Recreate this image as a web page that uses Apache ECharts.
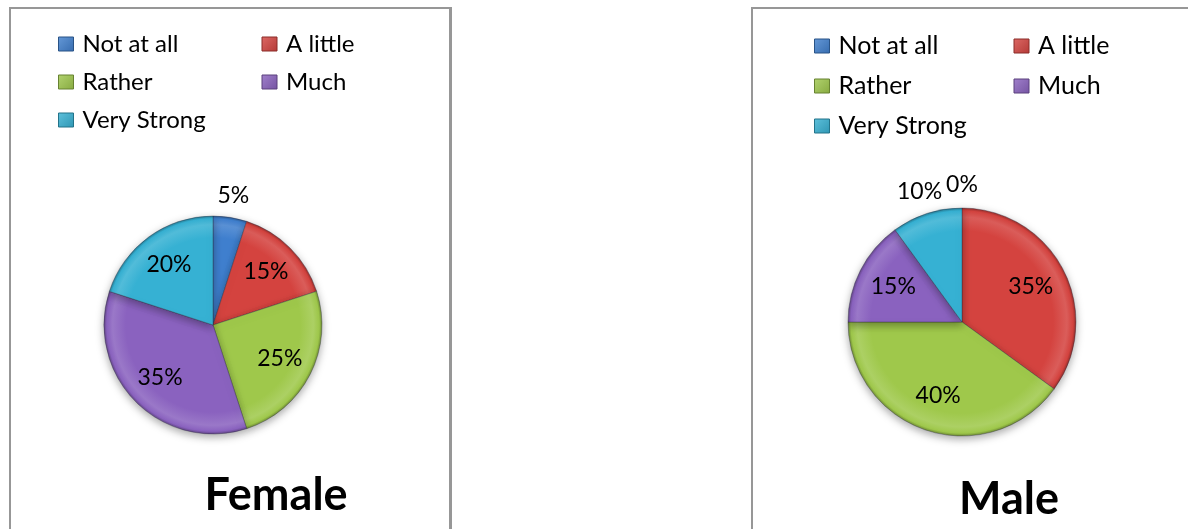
<!DOCTYPE html>
<html>
<head>
<meta charset="utf-8">
<script src="https://cdn.jsdelivr.net/npm/echarts@6/dist/echarts.min.js"></script>
<style>
  html, body { margin: 0; padding: 0; background: #fff; }
  #wrap { position: relative; width: 1188px; height: 529px; overflow: hidden; }
  .panel { position: absolute; box-sizing: border-box; border: 2px solid #979797; border-right-width: 3px; }
  #main { position: absolute; left: 0; top: 0; width: 1188px; height: 529px; }
</style>
</head>
<body>
<div id="wrap">
  <div class="panel" style="left:9px; top:7px; width:443px; height:560px;"></div>
  <div class="panel" style="left:751px; top:7px; width:500px; height:560px;"></div>
  <div id="main"></div>
</div>
<script>
// ---- data ----
const categories = ['Not at all', 'A little', 'Rather', 'Much', 'Very Strong'];
const femaleValues = [5, 15, 25, 35, 20];
const maleValues = [0, 35, 40, 15, 10];
const panelTitles = ['Female', 'Male'];

// ---- style ----
const baseColors = ['#3f7fce', '#d4433f', '#9fc84b', '#8a62bf', '#36b1d3'];
const FONT = 'Lato, "Liberation Sans", sans-serif';

function shade(hex, amt) {
  const n = parseInt(hex.slice(1), 16);
  let r = (n >> 16) & 255, g = (n >> 8) & 255, b = n & 255;
  const f = (c) => Math.max(0, Math.min(255, Math.round(amt >= 0 ? c + (255 - c) * amt : c * (1 + amt))));
  return 'rgb(' + f(r) + ',' + f(g) + ',' + f(b) + ')';
}

const panels = [
  { values: femaleValues, title: panelTitles[0], center: [213, 325], r: 109, inR: 0.66, outR: 1.17,
    legendLeft: 58, legendTop: 30, legendLH: 28, legendTW: 169, legendFS: 24,
    titleX: 276, titleTop: 473 },
  { values: maleValues, title: panelTitles[1], center: [962, 322], r: 114, inR: 0.65, outR: 1.18,
    legendLeft: 814, legendTop: 31, legendLH: 30, legendTW: 165, legendFS: 25,
    titleX: 1009, titleTop: 477 }
];

const chart = echarts.init(document.getElementById('main'), null, { renderer: 'canvas' });

const series = [];
const legends = [];
const titles = [];

panels.forEach((p, pi) => {
  const [cx, cy] = p.center;
  const mainData = categories.map((name, i) => {
    const c = baseColors[i];
    return {
      name: name,
      value: p.values[i],
      itemStyle: {
        color: new echarts.graphic.RadialGradient(cx, cy, p.r, [
          { offset: 0, color: c },
          { offset: 0.8, color: c },
          { offset: 0.92, color: shade(c, 0.14) },
          { offset: 0.975, color: c },
          { offset: 1, color: shade(c, -0.3) }
        ], true)
      }
    };
  });
  series.push({
    type: 'pie',
    center: p.center,
    radius: [0, p.r],
    startAngle: 90,
    clockwise: true,
    avoidLabelOverlap: false,
    label: { show: false },
    labelLine: { show: false },
    itemStyle: {
      borderColor: 'rgba(40,40,60,0.35)',
      borderWidth: 1,
      shadowBlur: 8,
      shadowOffsetY: 3,
      shadowColor: 'rgba(0,0,0,0.35)'
    },
    emphasis: { disabled: true },
    silent: true,
    data: mainData,
    z: 2
  });
  const labelStyle = {
    position: 'inside',
    formatter: '{c}%',
    color: '#000',
    fontFamily: FONT,
    fontSize: 23
  };
  // inner labels (larger slices)
  series.push({
    type: 'pie',
    center: p.center,
    radius: [0, 2 * p.inR * p.r],
    startAngle: 90,
    clockwise: true,
    avoidLabelOverlap: false,
    silent: true,
    emphasis: { disabled: true },
    itemStyle: { color: 'rgba(0,0,0,0)' },
    labelLine: { show: false },
    label: labelStyle,
    data: categories.map((name, i) => ({
      name: name, value: p.values[i],
      label: { show: p.values[i] >= 15 }
    })),
    z: 5
  });
  // outer labels (small slices)
  series.push({
    type: 'pie',
    center: p.center,
    radius: [0, 2 * p.outR * p.r],
    startAngle: 90,
    clockwise: true,
    avoidLabelOverlap: false,
    silent: true,
    emphasis: { disabled: true },
    itemStyle: { color: 'rgba(0,0,0,0)' },
    labelLine: { show: false },
    label: labelStyle,
    data: categories.map((name, i) => ({
      name: name, value: p.values[i],
      label: { show: p.values[i] < 15 }
    })),
    z: 5
  });

  legends.push({
    left: p.legendLeft,
    top: p.legendTop,
    width: 400,
    orient: 'horizontal',
    padding: 0,
    itemGap: 10,
    itemWidth: 15,
    itemHeight: 14,
    icon: 'rect',
    selectedMode: false,
    textStyle: {
      fontFamily: FONT,
      fontSize: p.legendFS,
      color: '#000',
      width: p.legendTW,
      lineHeight: p.legendLH,
      padding: [0, 0, 0, 4]
    },
    data: categories.map((name, i) => ({
      name: name,
      itemStyle: {
        color: new echarts.graphic.LinearGradient(0, 0, 1, 1, [
          { offset: 0, color: shade(baseColors[i], 0.2) },
          { offset: 1, color: shade(baseColors[i], -0.15) }
        ]),
        borderColor: shade(baseColors[i], -0.35),
        borderWidth: 1
      }
    }))
  });

  titles.push({
    text: p.title,
    left: p.titleX,
    top: p.titleTop,
    textAlign: 'center',
    padding: 0,
    textStyle: {
      fontFamily: FONT,
      fontWeight: 'bold',
      fontSize: 45,
      lineHeight: 45,
      color: '#000'
    }
  });
});

chart.setOption({
  animation: false,
  backgroundColor: 'transparent',
  title: titles,
  legend: legends,
  series: series
});
</script>
</body>
</html>
